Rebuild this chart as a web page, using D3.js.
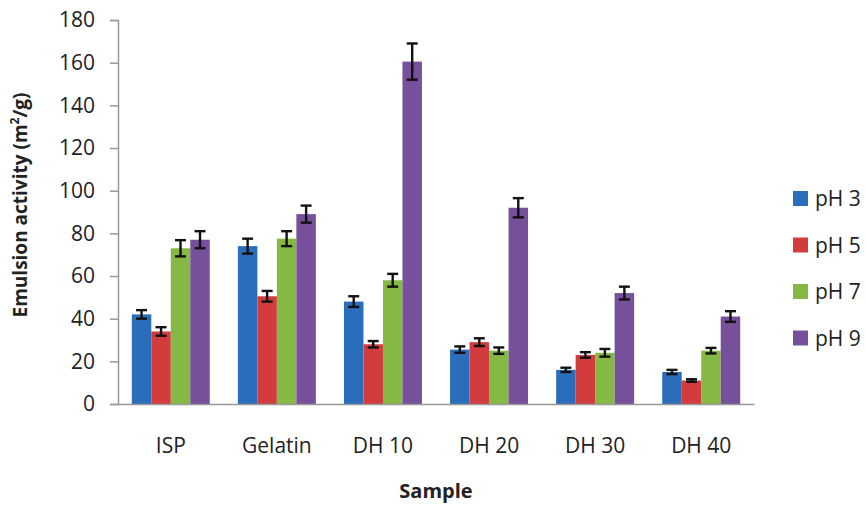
<!DOCTYPE html>
<html>
<head>
<meta charset="utf-8">
<script src="https://cdn.jsdelivr.net/npm/d3@7"></script>
<style>
  body { margin: 0; background: #fff; }
  text { font-family: 'Open Sans', sans-serif; fill: #222; }
</style>
</head>
<body>
<svg width="866" height="506"></svg>
<script>
const samples = ['ISP', 'Gelatin', 'DH 10', 'DH 20', 'DH 30', 'DH 40']
const seriesNames = ['pH 3', 'pH 5', 'pH 7', 'pH 9']
const colors = ['#2a6ebb', '#d33c3c', '#86b944', '#76509a']
// values per series, one per sample
const ph3 = [42, 74, 48, 25.5, 16, 15]
const ph5 = [34, 50.5, 28, 29, 23, 11]
const ph7 = [73, 77.5, 58, 25, 24, 25]
const ph9 = [77, 89, 160.5, 92, 52, 41]
const err3 = [2, 3.5, 2.5, 1.5, 1, 1]
const err5 = [2, 2.5, 1.5, 1.8, 1.3, 0.6]
const err7 = [3.8, 3.5, 3, 1.5, 1.8, 1.3]
const err9 = [4, 4, 8.5, 4.5, 3, 2.5]
const yTicks = [0, 20, 40, 60, 80, 100, 120, 140, 160, 180]

const values = [ph3, ph5, ph7, ph9]
const errors = [err3, err5, err7, err9]

let svg = d3.select('svg')
let margin = { left: 118, right: 112, top: 20, bottom: 102 }
let width = 866 - margin.left - margin.right
let height = 506 - margin.top - margin.bottom

let g = svg.append('g').attr('transform', 'translate(' + margin.left + ',' + margin.top + ')')

let x0 = d3.scaleBand().domain(samples).range([0, width]).paddingInner(0.265).paddingOuter(0.13)
let x1 = d3.scaleBand().domain(seriesNames).range([0, x0.bandwidth()])
let y = d3.scaleLinear().domain([0, 180]).range([height, 0])

// y axis
let yAxis = g.append('g')
  .call(d3.axisLeft(y).tickValues(yTicks).tickSize(8).tickPadding(15))
yAxis.select('.domain').attr('stroke', '#999').attr('stroke-width', 1.5)
yAxis.selectAll('.tick line').attr('stroke', '#999').attr('stroke-width', 1.5)
yAxis.selectAll('.tick text').style('font-size', '21px').attr('fill', '#222')

// bars
let groups = g.append('g').selectAll('g')
  .data(samples)
  .enter().append('g')
  .attr('transform', function (d) { return 'translate(' + x0(d) + ',0)' })

groups.selectAll('rect')
  .data(function (d, i) { return seriesNames.map(function (s, j) { return { s: s, v: values[j][i], e: errors[j][i], c: colors[j] } }) })
  .enter().append('rect')
  .attr('x', function (d) { return x1(d.s) })
  .attr('width', x1.bandwidth())
  .attr('y', function (d) { return y(d.v) })
  .attr('height', function (d) { return height - y(d.v) })
  .attr('fill', function (d) { return d.c })

// error bars
let eb = groups.selectAll('g.err')
  .data(function (d, i) { return seriesNames.map(function (s, j) { return { s: s, v: values[j][i], e: errors[j][i] } }) })
  .enter().append('g').attr('class', 'err')
  .attr('stroke', '#111').attr('stroke-width', 2.4)
eb.append('line')
  .attr('x1', function (d) { return x1(d.s) + x1.bandwidth() / 2 })
  .attr('x2', function (d) { return x1(d.s) + x1.bandwidth() / 2 })
  .attr('y1', function (d) { return y(d.v + d.e) })
  .attr('y2', function (d) { return y(d.v - d.e) })
eb.append('line')
  .attr('x1', function (d) { return x1(d.s) + x1.bandwidth() / 2 - 5.5 })
  .attr('x2', function (d) { return x1(d.s) + x1.bandwidth() / 2 + 5.5 })
  .attr('y1', function (d) { return y(d.v + d.e) })
  .attr('y2', function (d) { return y(d.v + d.e) })
eb.append('line')
  .attr('x1', function (d) { return x1(d.s) + x1.bandwidth() / 2 - 5.5 })
  .attr('x2', function (d) { return x1(d.s) + x1.bandwidth() / 2 + 5.5 })
  .attr('y1', function (d) { return y(d.v - d.e) })
  .attr('y2', function (d) { return y(d.v - d.e) })

// x axis
let xAxis = g.append('g')
  .attr('transform', 'translate(0,' + height + ')')
  .call(d3.axisBottom(x0).tickSize(0).tickPadding(34))
xAxis.select('.domain').attr('stroke', '#999').attr('stroke-width', 1.5)
xAxis.selectAll('.tick text').style('font-size', '21px').attr('fill', '#222')

// axis titles
svg.append('text')
  .attr('x', margin.left + width / 2)
  .attr('y', 498)
  .attr('text-anchor', 'middle')
  .style('font-size', '20px')
  .style('font-weight', 'bold')
  .text('Sample')

svg.append('text')
  .attr('transform', 'translate(27,205) rotate(-90)')
  .attr('text-anchor', 'middle')
  .style('font-size', '19px')
  .style('font-weight', 'bold')
  .text('Emulsion activity (m')
  .append('tspan').attr('baseline-shift', 'super').style('font-size', '12px').text('2')
  .select(function () { return this.parentNode })
  .append('tspan').text('/g)')

// legend
let legend = svg.append('g').attr('transform', 'translate(793,191)')
let items = legend.selectAll('g')
  .data(seriesNames)
  .enter().append('g')
  .attr('transform', function (d, i) { return 'translate(0,' + (i * 46.5) + ')' })
items.append('rect')
  .attr('width', 15).attr('height', 15)
  .attr('fill', function (d, i) { return colors[i] })
items.append('text')
  .attr('x', 22).attr('y', 15)
  .style('font-size', '21px')
  .text(function (d) { return d })
</script>
</body>
</html>
